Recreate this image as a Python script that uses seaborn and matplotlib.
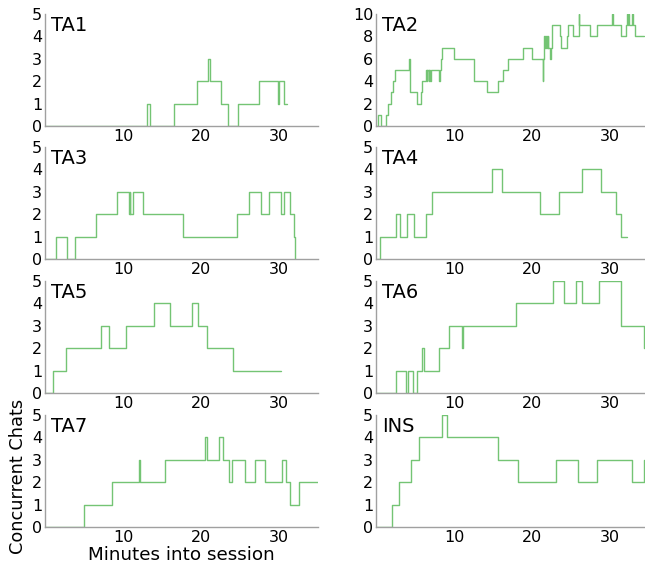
import matplotlib
matplotlib.use('Agg')
import matplotlib.pyplot as plt
import seaborn as sns

# step data: (start minute of each segment, value)
ta1_t = [0, 13.1, 13.45, 16.5, 19.5, 20.9, 21.2, 22.5, 23.4, 24.7, 27.4, 29.9, 30.05, 30.7, 31.0]
ta1_v = [0, 1, 0, 1, 2, 3, 2, 1, 0, 1, 2, 1, 2, 1, 1]

ta2_t = [0, 0.2, 0.6, 1.3, 1.6, 1.9, 2.15, 2.4, 4.17, 4.3, 5.3, 5.77, 5.95, 6.4, 6.5, 6.6, 6.75,
         6.85, 6.95, 7.05, 8.1, 8.2, 8.3, 8.45, 10.06, 12.56, 14.2, 15.6, 16.26, 16.86, 18.9,
         20.0, 21.35, 21.42, 21.6, 21.7, 21.8, 21.9, 22.0, 22.1, 22.3, 22.4, 22.6, 23.55, 23.75,
         24.45, 24.6, 25.25, 25.98, 26.08, 27.4, 28.35, 30.3, 30.4, 31.4, 32.0, 32.15, 32.25,
         32.35, 32.45, 32.8, 32.9, 33.2, 34.3]
ta2_v = [0, 1, 0, 1, 2, 3, 4, 5, 6, 3, 2, 3, 4, 5, 4, 5, 4,
         5, 4, 5, 4, 5, 6, 7, 6, 4, 3, 4, 5, 6, 7,
         6, 4, 6, 8, 7, 8, 7, 8, 7, 6, 7, 9, 8, 7,
         8, 9, 8, 10, 9, 8, 9, 10, 9, 8, 9, 10, 9,
         10, 9, 10, 9, 8, 8]

ta3_t = [0, 1.45, 2.86, 3.9, 6.6, 9.27, 10.77, 10.85, 10.95, 11.3, 12.5, 17.7, 24.6, 26.2,
         27.7, 28.7, 30.2, 30.6, 31.45, 31.97, 32.05]
ta3_v = [0, 1, 0, 1, 2, 3, 2, 3, 2, 3, 2, 1, 2, 3, 2, 3, 2, 3, 2, 1, 0]

ta4_t = [0, 0.5, 2.58, 3.14, 3.96, 4.9, 6.4, 7.14, 14.84, 16.2, 21.0, 23.4, 26.4, 28.8,
         30.75, 31.4, 32.2]
ta4_v = [0, 1, 2, 1, 2, 1, 2, 3, 4, 3, 2, 3, 4, 3, 2, 1, 1]

ta5_t = [0, 1.03, 2.65, 7.2, 8.25, 10.4, 13.97, 16.0, 18.8, 19.6, 20.77, 24.1, 30.2]
ta5_v = [0, 1, 2, 3, 2, 3, 4, 3, 4, 3, 2, 1, 1]

ta6_t = [0, 2.62, 3.8, 4.04, 4.8, 5.3, 5.94, 6.15, 8.04, 9.38, 11.05, 11.15, 17.9, 22.75,
         24.1, 25.7, 26.45, 28.6, 31.4, 34.3, 35]
ta6_v = [0, 1, 0, 1, 0, 1, 2, 1, 2, 3, 2, 3, 4, 5, 4, 5, 4, 5, 3, 2, 2]

ta7_t = [0, 4.96, 8.63, 12.1, 12.16, 15.43, 20.56, 20.8, 22.26, 22.78, 23.6, 23.93, 25.6,
         26.9, 28.16, 30.4, 30.9, 31.45, 32.6, 35]
ta7_v = [0, 1, 2, 3, 2, 3, 4, 3, 4, 3, 2, 3, 2, 3, 2, 3, 2, 1, 2, 2]

ins_t = [0, 2.02, 3.0, 4.47, 5.5, 8.5, 9.12, 15.66, 18.2, 23.05, 25.9, 28.3, 32.86, 34.3, 35]
ins_v = [0, 1, 2, 3, 4, 5, 4, 3, 2, 3, 2, 3, 2, 3, 3]

names = ['TA1', 'TA2', 'TA3', 'TA4', 'TA5', 'TA6', 'TA7', 'INS']
series = [(ta1_t, ta1_v), (ta2_t, ta2_v), (ta3_t, ta3_v), (ta4_t, ta4_v),
          (ta5_t, ta5_v), (ta6_t, ta6_v), (ta7_t, ta7_v), (ins_t, ins_v)]

sns.set_style('white')
plt.rcParams['font.family'] = ['DejaVu Sans']
plt.rcParams['text.color'] = 'black'
plt.rcParams['axes.labelcolor'] = 'black'
plt.rcParams['xtick.labelcolor'] = 'black'
plt.rcParams['ytick.labelcolor'] = 'black'

fig = plt.figure(figsize=(6.45, 5.69), dpi=100)

lefts = [45 / 645, 376 / 645]
bottoms = [0.7786, 0.5448, 0.3093, 0.0738]
w = 273 / 645
h = 112 / 569

axes = []
for i, (name, (t, v)) in enumerate(zip(names, series)):
    row, col = divmod(i, 2)
    ax = fig.add_axes([lefts[col], bottoms[row], w, h])
    sns.lineplot(x=t, y=v, ax=ax, drawstyle='steps-post', estimator=None, sort=False,
                 color='#74c474', linewidth=1.0)
    ax.set_xlim(0, 35)
    ymax = 10 if name == 'TA2' else 5
    ax.set_ylim(0, ymax)
    ax.set_yticks(range(0, ymax + 1, 2 if name == 'TA2' else 1))
    ax.set_xticks([10, 20, 30])
    for s in ['top', 'right']:
        ax.spines[s].set_visible(False)
    for s in ['left', 'bottom']:
        ax.spines[s].set_color('#a0a0a0')
        ax.spines[s].set_linewidth(1.0)
    ax.tick_params(direction='in', length=3, color='#a0a0a0', labelsize=11.5, pad=2)
    ax.text(0.022, 0.985, name, transform=ax.transAxes, fontsize=14, va='top', ha='left')
    axes.append(ax)

axes[6].set_xlabel('Minutes into session', fontsize=13.2, labelpad=1)
axes[6].set_ylabel('Concurrent Chats', fontsize=12.8)
axes[6].yaxis.set_label_coords(-0.066, 0.45)

fig.savefig('out.png', dpi=100)
